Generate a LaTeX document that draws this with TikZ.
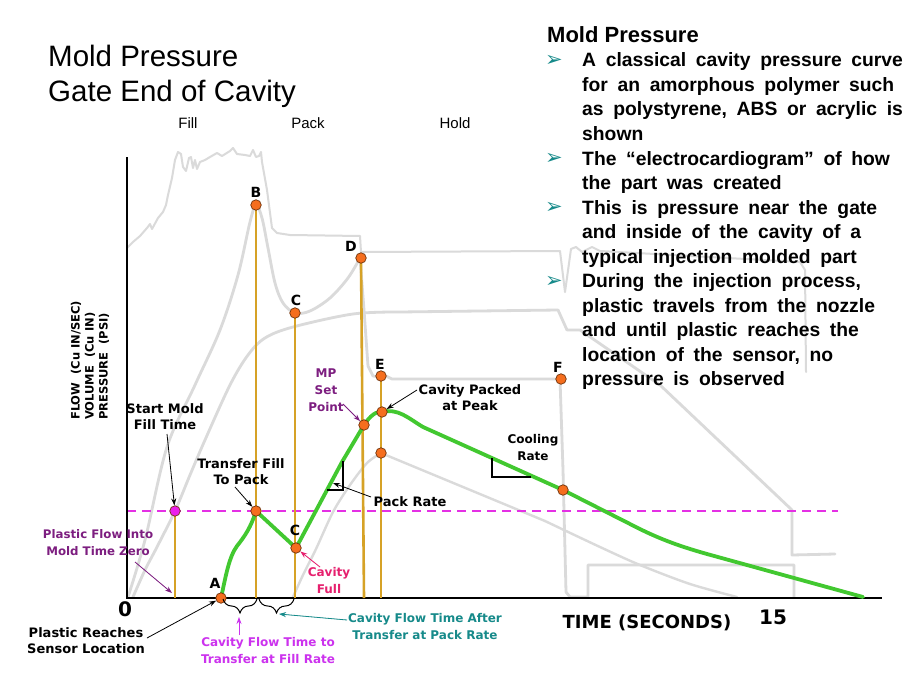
\documentclass[tikz,border=0pt]{standalone}
\usepackage{fontspec}
\setmainfont{Liberation Sans}
\newfontfamily\dvs{DejaVu Sans}
\newfontfamily\lib{Liberation Sans}
\usetikzlibrary{arrows.meta,decorations.pathreplacing,calc}
\definecolor{grayc}{RGB}{218,218,218}
\definecolor{tanl}{RGB}{214,162,38}
\definecolor{greenc}{RGB}{66,200,48}
\definecolor{magd}{RGB}{228,48,228}
\definecolor{dotor}{RGB}{245,110,30}
\definecolor{dotbd}{RGB}{110,50,10}
\definecolor{pinkd}{RGB}{235,30,235}
\definecolor{purp}{RGB}{125,30,128}
\definecolor{viol}{RGB}{204,50,238}
\definecolor{tealc}{RGB}{22,138,138}
\definecolor{crim}{RGB}{230,32,110}
\newcommand\widesp{\spaceskip 0.5em\relax}
\tikzset{
  gcurve/.style={draw=grayc, line width=2.8pt, line join=round, line cap=round},
  gthin/.style={draw=grayc, line width=2pt, line join=round, line cap=round},
  tanline/.style={draw=tanl, line width=1.8pt},
  odot/.style={circle, fill=dotor, draw=dotbd, line width=0.7pt, minimum size=10.5pt, inner sep=0pt},
  pdot/.style={odot, fill=pinkd},
  lab/.style={font=\dvs\bfseries\fontsize{13}{16}\selectfont, align=center, inner sep=0pt},
  labm/.style={font=\dvs\bfseries\fontsize{12}{17}\selectfont, align=center, inner sep=0pt},
  labs/.style={font=\dvs\bfseries\fontsize{11.8}{17}\selectfont, align=center, inner sep=0pt},
  letter/.style={font=\dvs\bfseries\fontsize{14}{16}\selectfont, inner sep=0pt},
  big/.style={font=\dvs\bfseries\fontsize{20}{22}\selectfont, inner sep=0pt},
  ylab/.style={font=\dvs\bfseries\fontsize{11.5}{13}\selectfont, inner sep=0pt, rotate=90, anchor=west},
  arr/.style={-{Stealth[length=7pt,width=5pt]}, line width=0.8pt},
  rtext/.style={font=\lib\bfseries\fontsize{19.3}{24}\selectfont\widesp, anchor=base west, inner sep=0pt},
  bul/.style={font=\dvs\fontsize{21}{22}\selectfont, text=tealc, inner sep=0pt},
  brc/.style={decorate, decoration={brace, amplitude=14pt, mirror}, line width=1pt},
  tri/.style={line width=1.3pt, black},
}
\begin{document}
\begin{tikzpicture}[x=1pt,y=-1pt]
\useasboundingbox[fill=white] (0,0) rectangle (920,690);

% ---------- gray background curves ----------
\draw[gthin] (127,248) -- (133,242) -- (140,236) -- (147,228) -- (150,224) -- (152,229) -- (158,218) -- (163,212) -- (166,205) -- (168,195) -- (172,178) -- (175,160) -- (178,152) -- (181,154) -- (183,167) -- (186,171) -- (189,158) -- (191,157) -- (193,168) -- (195,160) -- (197,169) -- (200,162) -- (205,160) -- (210,157) -- (217,153) -- (222,156) -- (230,151) -- (233,148) -- (237,154) -- (245,155) -- (250,156) -- (253,150) -- (256,157) -- (259,156) -- (261,152) -- (262,162) -- (267,190) -- (272,228) -- (277,233) -- (290,235) -- (360,236) -- (361,252) -- (560,251) -- (565,292) -- (571,249) -- (576,247) -- (582,252) -- (592,247) -- (600,251) -- (800,262) -- (805,270) -- (806,372);

\draw[gcurve] plot[smooth,tension=0.55] coordinates {(128,597) (145,540) (167,447) (195,385) (220,330) (238,275) (250,222) (256,205) (262,218) (268,248) (275,283) (283,303) (295,313) (310,311) (330,298) (348,278) (360,258)} -- (364,310) -- (368,366) -- (373,376) -- (380,377) -- (386,376) -- (392,379) -- (560,379) -- (563,470) -- (566,592) -- (570,597) -- (588,597) -- (588,565) -- (794,565) -- (794,597);

\draw[gcurve] plot[smooth,tension=0.55] coordinates {(133,597) (145,570) (157,547) (175,511) (190,475) (205,440) (230,385) (248,355) (265,338) (293,327) (353,314) (400,312)} -- (558,310) -- (567,330) -- (580,330) -- (660,385) -- (792,510) -- (792,555) -- (835,554);

\draw[gcurve, line width=2.4pt] plot[smooth,tension=0.5] coordinates {(293,597) (303,575) (316,549) (333,512) (350,485) (367,463) (381,453)} -- (545,521);
\draw[gcurve, line width=2.4pt] plot[smooth,tension=0.5] coordinates {(545,521) (600,547) (640,565) (690,584) (737,597)};

% ---------- threshold line ----------
\draw[draw=magd, line width=1.6pt, dash pattern=on 9pt off 6pt] (127,511) -- (838,511);

% ---------- axes ----------
\draw[line width=2.2pt] (127,157) -- (127,598) -- (882,598);

% ---------- point coordinates ----------
\coordinate (pS) at (175,511);
\coordinate (pA) at (221,598);
\coordinate (pB) at (256,205);
\coordinate (pT) at (256,511);
\coordinate (pC) at (295,313);
\coordinate (pC2) at (296,548);
\coordinate (pD) at (361,258);
\coordinate (pMP) at (364,425);
\coordinate (pE) at (381,376);
\coordinate (pPk) at (382,412);
\coordinate (pE2) at (381,453);
\coordinate (pF) at (561,379);
\coordinate (pCool) at (563,490);

% ---------- tan verticals ----------
\draw[tanline] (pS) -- (175,598);
\draw[tanline] (pB) -- (256,598);
\draw[tanline] (pC) -- (295,598);
\draw[tanline, line width=2.6pt] (pD) -- (364,598);
\draw[tanline] (pE) -- (381,598);

% ---------- green cavity pressure ----------
\draw[draw=greenc, line width=3.8pt, line join=round, line cap=round]
  (pA) .. controls (226,575) and (229,557) .. (237,546)
  .. controls (245,536) and (251,527) .. (pT)
  -- (pC2) -- (327,490) -- (342,462) -- (pMP)
  .. controls (370,416) and (376,411) .. (pPk)
  .. controls (398,408) and (408,418) .. (423,427)
  -- (pCool) -- (630,524)
  .. controls (655,537) and (675,545) .. (707,554) -- (863,597);

% ---------- slope triangles ----------
\draw[tri] (327,490) -- (343,490) -- (343,461);
\draw[tri] (492,458) -- (492,477) -- (531,477);

% ---------- dots ----------
\node[pdot] (dS) at (pS) {};
\node[odot] (dA) at (pA) {};
\node[odot] (dB) at (pB) {};
\node[odot] (dT) at (pT) {};
\node[odot] (dC) at (pC) {};
\node[odot] (dC2) at (pC2) {};
\node[odot] (dD) at (pD) {};
\node[odot] (dMP) at (pMP) {};
\node[odot] (dE) at (pE) {};
\node[odot] (dPk) at (pPk) {};
\node[odot] (dE2) at (pE2) {};
\node[odot] (dF) at (pF) {};
\node[odot] (dCool) at (pCool) {};

% ---------- point letters ----------
\node[letter] (lA) at (215,583) {A};
\node[letter] (lB) at (256,192) {B};
\node[letter] (lC) at (296,300) {C};
\node[letter] (lD) at (351,246) {D};
\node[letter] (lE) at (380,364) {E};
\node[letter] (lF) at (558,367) {F};
\node[letter] (lC2) at (295,530) {C};

% ---------- titles ----------
\node[font=\lib\fontsize{29.5}{32}\selectfont, anchor=base west, inner sep=0pt] (t1) at (48,67) {Mold Pressure};
\node[font=\lib\fontsize{29.5}{32}\selectfont, anchor=base west, inner sep=0pt] (t2) at (48,102) {Gate End of Cavity};
\node[font=\lib\fontsize{15}{17}\selectfont, inner sep=0pt] (phF) at (188,123) {Fill};
\node[font=\lib\fontsize{15}{17}\selectfont, inner sep=0pt] (phP) at (308,123) {Pack};
\node[font=\lib\fontsize{15}{17}\selectfont, inner sep=0pt] (phH) at (455,123) {Hold};

% ---------- y axis labels ----------
\node[ylab] (y1) at (76,420) {FLOW\ \ (Cu IN/SEC)};
\node[ylab] (y2) at (90,420) {VOLUME\ \ (Cu IN)};
\node[ylab] (y3) at (104,420) {PRESSURE\ \ (PSI)};

% ---------- labels ----------
\node[lab] (startlbl) at (165,417) {Start Mold\\Fill Time};
\node[lab] (xferlbl) at (241,472) {Transfer Fill\\To Pack};
\node[labs, text=purp] (pflbl) at (98,543) {Plastic Flow Into\\Mold Time Zero};
\node[lab] (prlbl) at (86,641) {Plastic Reaches\\Sensor Location};
\node[labm, text=viol] (cfflbl) at (268,651) {Cavity Flow Time to\\Transfer at Fill Rate};
\node[labm, text=tealc] (cfplbl) at (425,627) {Cavity Flow Time After\\Transfer at Pack Rate};
\node[labm, text=crim] (fulllbl) at (329,581) {Cavity\\Full};
\node[labm, text=purp] (mplbl) at (326,390) {MP\\Set\\Point};
\node[lab] (peaklbl) at (470,398) {Cavity Packed\\at Peak};
\node[labm] (coollbl) at (533,448) {Cooling\\Rate};
\node[lab] (packlbl) at (410,502) {Pack Rate};
\node[big] (zero) at (125,609) {0};
\node[big] (fifteen) at (773,617) {15};
\node[font=\dvs\bfseries\fontsize{18}{20}\selectfont, inner sep=0pt] (timelbl) at (647,623) {TIME (SECONDS)};

% ---------- braces ----------
\draw[brc] (223,599) -- (257,599);
\draw[brc] (259,599) -- (294,599);
\coordinate (b1tip) at (239,617);
\coordinate (b2tip) at (279,614);

% ---------- arrow tails / heads ----------
\coordinate (tStart) at (167,434);
\coordinate (tXfer) at (235,487);
\coordinate (tPF) at (135,562);
\coordinate (hPF) at (172,593);
\coordinate (tPR) at (147,638);
\coordinate (tCF) at (239,635);
\coordinate (tCP) at (347,620);
\coordinate (tFull) at (320,567);
\coordinate (tMP) at (343,404);
\coordinate (tPk) at (417,390);
\coordinate (tPack) at (371,497);
\coordinate (hPack) at (333,483);

\draw[arr] (tStart) -- (dS);
\draw[arr] (tXfer) -- (dT);
\draw[arr, draw=purp, fill=purp] (tPF) -- (hPF);
\draw[arr] (tPR) -- (dA);
\draw[arr, draw=viol, fill=viol] (tCF) -- (b1tip);
\draw[arr, draw=tealc, fill=tealc] (tCP) -- (b2tip);
\draw[arr, draw=crim, fill=crim] (tFull) -- (dC2);
\draw[arr, draw=purp, fill=purp] (tMP) -- (dMP);
\draw[arr] (tPk) -- (dPk);
\draw[arr] (tPack) -- (hPack);

% ---------- right text block ----------
\node[font=\lib\bfseries\fontsize{22}{24}\selectfont, anchor=base west, inner sep=0pt] (rh) at (547,43) {Mold Pressure};
\node[bul] (bu1) at (554,61) {➢};
\node[bul] (bu2) at (554,159) {➢};
\node[bul] (bu3) at (554,208) {➢};
\node[bul] (bu4) at (554,282) {➢};
\node[rtext] (r1) at (582,67) {A classical cavity pressure curve};
\node[rtext] (r2) at (582,91.5) {for an amorphous polymer such};
\node[rtext] (r3) at (582,116) {as polystyrene, ABS or acrylic is};
\node[rtext] (r4) at (582,140.5) {shown};
\node[rtext] (r5) at (582,165) {The “electrocardiogram” of how};
\node[rtext] (r6) at (582,189.5) {the part was created};
\node[rtext] (r7) at (582,214) {This is pressure near the gate};
\node[rtext] (r8) at (582,238.5) {and inside of the cavity of a};
\node[rtext] (r9) at (582,263) {typical injection molded part};
\node[rtext] (r10) at (582,287.5) {During the injection process,};
\node[rtext] (r11) at (582,312) {plastic travels from the nozzle};
\node[rtext] (r12) at (582,336.5) {and until plastic reaches the};
\node[rtext] (r13) at (582,361) {location of the sensor, no};
\node[rtext] (r14) at (582,385.5) {pressure is observed};
\end{tikzpicture}
\end{document}
